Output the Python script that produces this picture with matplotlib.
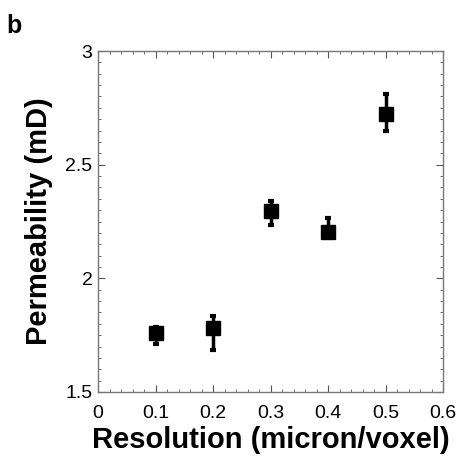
import matplotlib
matplotlib.use("Agg")
import matplotlib.pyplot as plt
from matplotlib.ticker import MultipleLocator

plt.rcParams['font.family'] = ['Liberation Sans', 'DejaVu Sans']

# resolution vs. permeability with asymmetric error bars
resolution = [0.1, 0.2, 0.3, 0.4, 0.5]
permeability = [1.76, 1.78, 2.295, 2.205, 2.725]
err_low = [0.05, 0.095, 0.06, 0.02, 0.075]
err_high = [0.025, 0.055, 0.045, 0.06, 0.085]

fig = plt.figure(figsize=(4.59, 4.59), dpi=100)
ax = fig.add_axes([98 / 459, 67 / 459, 345 / 459, 341 / 459])

ax.errorbar(resolution, permeability, yerr=[err_low, err_high],
            fmt='s', color='black', markersize=10.5, elinewidth=2.5,
            capsize=2.5, capthick=3, zorder=3)

ax.set_xlim(0, 0.6)
ax.set_ylim(1.5, 3)
ax.set_xticks([0, 0.1, 0.2, 0.3, 0.4, 0.5, 0.6])
ax.set_xticklabels(['0', '0.1', '0.2', '0.3', '0.4', '0.5', '0.6'])
ax.set_yticks([1.5, 2, 2.5, 3])
ax.set_yticklabels(['1.5', '2', '2.5', '3'])
ax.xaxis.set_minor_locator(MultipleLocator(0.02))
ax.yaxis.set_minor_locator(MultipleLocator(0.05))

ax.tick_params(which='both', direction='in', top=True, right=True,
               color='#555555', labelsize=14)
ax.tick_params(which='major', length=5, width=0.8)
ax.tick_params(which='minor', length=2.5, width=0.6)
ax.tick_params(axis='x', which='major', pad=9)
ax.tick_params(axis='y', which='major', pad=4)
for s in ax.spines.values():
    s.set_color('#777777')
    s.set_linewidth(1.0)

ax.set_xlabel('Resolution (micron/voxel)', fontsize=21, fontweight='bold',
              labelpad=3)
ax.set_ylabel('Permeability (mD)', fontsize=21, fontweight='bold',
              labelpad=9)

fig.text(6 / 459, 1 - 26 / 459, 'b', fontsize=18, fontweight='bold',
         va='center', ha='left')

fig.savefig('out.png', dpi=100)
